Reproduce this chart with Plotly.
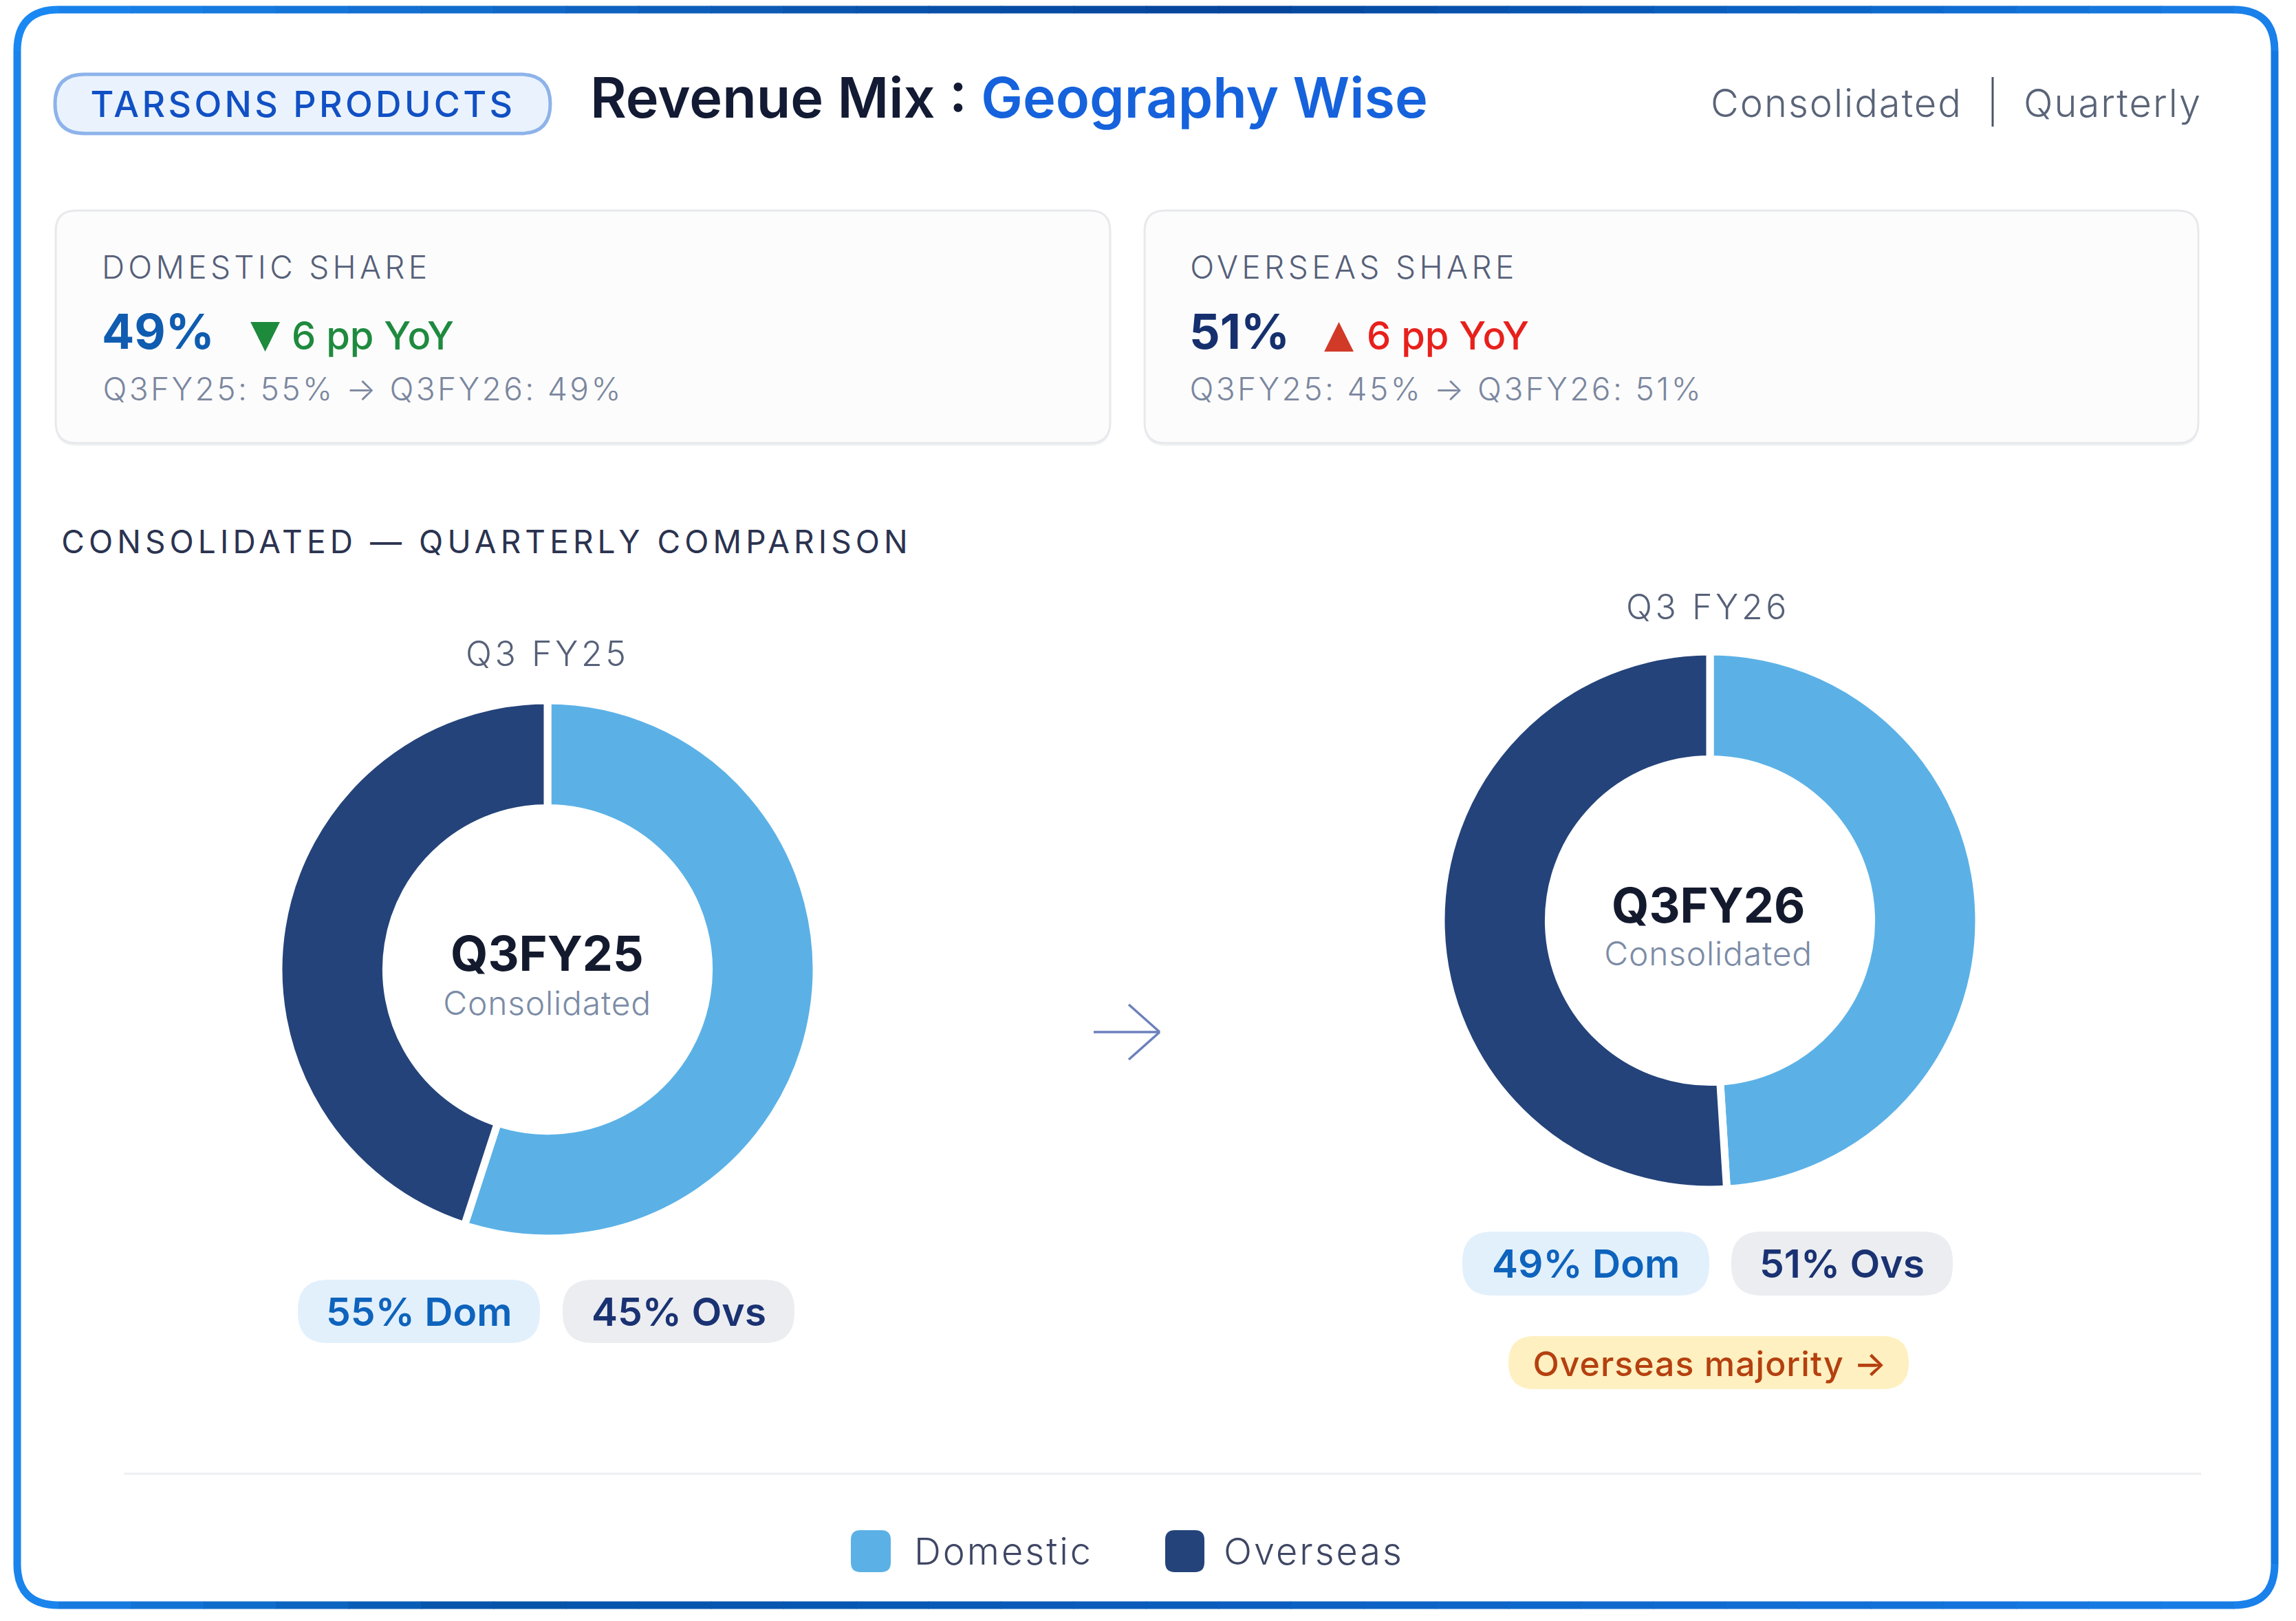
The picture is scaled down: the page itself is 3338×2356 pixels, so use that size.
import json
import plotly.graph_objects as go

W, H = 3338, 2356
FONT = "Inter"

# ---- data ----
segments = ["Domestic", "Overseas"]
q3fy25_values = [55, 45]
q3fy26_values = [49, 51]
segment_colors = ["#5BB1E6", "#24437A"]
quarter_labels = ["Q3 FY25", "Q3 FY26"]
center_labels = ["Q3FY25", "Q3FY26"]
delta_pp = 6

def fx(x): return x / W
def fy(y): return 1 - y / H

def rr_path(x0, y0, x1, y1, r):
    p = lambda x, y: f"{fx(x):.6f},{fy(y):.6f}"
    return (f"M{p(x0+r,y0)} L{p(x1-r,y0)} Q{p(x1,y0)} {p(x1,y0+r)} L{p(x1,y1-r)} "
            f"Q{p(x1,y1)} {p(x1-r,y1)} L{p(x0+r,y1)} Q{p(x0,y1)} {p(x0,y1-r)} "
            f"L{p(x0,y0+r)} Q{p(x0,y0)} {p(x0+r,y0)} Z")

shapes, annots, spacing = [], [], []

def rrect(x0, y0, x1, y1, r, fill, line=None, lw=0):
    shapes.append(dict(type="path", xref="paper", yref="paper", path=rr_path(x0, y0, x1, y1, r),
                       fillcolor=fill, line=dict(color=line or fill, width=lw), layer="below"))

def seg(x0, y0, x1, y1, color, lw):
    shapes.append(dict(type="line", xref="paper", yref="paper", x0=fx(x0), y0=fy(y0), x1=fx(x1), y1=fy(y1),
                       line=dict(color=color, width=lw), layer="below"))

def text(t, cx, cy, size, color, weight=400, sp=0, family=FONT):
    annots.append(dict(text=t, xref="paper", yref="paper", x=fx(cx), y=fy(cy), xanchor="center", yanchor="middle",
                       showarrow=False, font=dict(family=family, size=size, color=color, weight=weight)))
    spacing.append(sp)

def lerp_stops(stops, x):
    for (a, ca), (b, cb) in zip(stops, stops[1:]):
        if a <= x <= b:
            t = (x - a) / (b - a)
            c = [round(int(ca[i:i+2], 16) * (1 - t) + int(cb[i:i+2], 16) * t) for i in (1, 3, 5)]
            return "#%02x%02x%02x" % tuple(c)
    return stops[-1][1]

# ---- frame with horizontal gradient ----
FL, FR, FT, FB, FW, FRAD = 25, 3307, 14, 2333, 11, 60
top_stops = [(0, "#1a88f2"), (1200, "#0a55ae"), (1800, "#05449a"), (2600, "#0a62c4"), (3338, "#1a80ea")]
bot_stops = [(0, "#1a84ec"), (700, "#0553a8"), (1700, "#0a5cbc"), (2700, "#1270d6"), (3338, "#1a80ea")]
n = 30
for i in range(n):
    a = FL + FRAD + (FR - FL - 2 * FRAD) * i / n
    b = FL + FRAD + (FR - FL - 2 * FRAD) * (i + 1) / n
    seg(a, FT, b + 1, FT, lerp_stops(top_stops, (a + b) / 2), FW)
    seg(a, FB, b + 1, FB, lerp_stops(bot_stops, (a + b) / 2), FW)
seg(FL, FT + FRAD, FL, FB - FRAD, "#1a84ec", FW)
seg(FR, FT + FRAD, FR, FB - FRAD, "#1478e2", FW)
def corner(x0, y0, cx, cy, x1, y1, color):
    shapes.append(dict(type="path", xref="paper", yref="paper",
                       path=f"M{fx(x0):.6f},{fy(y0):.6f} Q{fx(cx):.6f},{fy(cy):.6f} {fx(x1):.6f},{fy(y1):.6f}",
                       line=dict(color=color, width=FW), layer="below"))
corner(FL, FT + FRAD, FL, FT, FL + FRAD, FT, "#1a88f2")
corner(FR - FRAD, FT, FR, FT, FR, FT + FRAD, "#1a80ea")
corner(FL, FB - FRAD, FL, FB, FL + FRAD, FB, "#1a84ec")
corner(FR - FRAD, FB, FR, FB, FR, FB - FRAD, "#1a80ea")

# ---- header ----
rrect(80, 108, 800, 194, 43, "#EAF3FD", "#8DB3EA", 5)
text("TARSONS PRODUCTS", 440, 152, 52, "#1150C4", 500, 4.3)
text('Revenue Mix : <span style="color:#1562DC">Geography Wise</span>', 1467, 142, 81, "#131A33", 600, 0)
text("Consolidated", 2670, 150, 56, "#5A6478", 300, 2)
seg(2897, 112, 2897, 184, "#4A5568", 3)
text("Quarterly", 3071, 150, 56, "#5A6478", 300, 2)

# ---- KPI cards ----
for x0, x1 in [(81, 1614), (1664, 3196)]:
    rrect(x0, 309, x1, 648, 30, "#F1F2F4")
    rrect(x0, 306, x1, 644, 30, "#FCFCFD", "#E8E9EC", 3)

text("DOMESTIC SHARE", 387, 388, 46, "#566078", 300, 5.3)
text(f"{q3fy26_values[0]}%", 230, 482, 70, "#0F5CB0", 700, 0)
text("▼", 385, 484, 56, "#1E8A3C", 400, 0, "DejaVu Sans")
text(f"{delta_pp} pp YoY", 542, 488, 56, "#1F8A3E", 500, 0)
text(f"Q3FY25: {q3fy25_values[0]}% → Q3FY26: {q3fy26_values[0]}%", 527, 565, 46, "#7B879E", 300, 3.4)

text("OVERSEAS SHARE", 1968, 388, 46, "#566078", 300, 5.4)
text(f"{q3fy26_values[1]}%", 1802, 482, 70, "#16306E", 700, 0)
text("▲", 1946, 484, 56, "#D23A28", 400, 0, "DejaVu Sans")
text(f"{delta_pp} pp YoY", 2105, 488, 56, "#E8201C", 500, 0)
text(f"Q3FY25: {q3fy25_values[1]}% → Q3FY26: {q3fy26_values[1]}%", 2103, 565, 46, "#7B879E", 300, 3.4)

text("CONSOLIDATED — QUARTERLY COMPARISON", 707, 787, 46, "#2B3350", 400, 6.1)

# ---- donuts ----
donut_r, gap = 391, 11
centers = [(796, 1409), (2486, 1338)]
text_cx = [795, 2483]
fig = go.Figure()
for (cx, cy), vals, name in zip(centers, [q3fy25_values, q3fy26_values], quarter_labels):
    fig.add_trace(go.Pie(labels=segments, values=vals, name=name, hole=0.60, sort=False, direction="clockwise",
                         rotation=0, textinfo="none", hoverinfo="label+percent", showlegend=False,
                         marker=dict(colors=segment_colors, line=dict(color="#FFFFFF", width=gap)),
                         domain=dict(x=[fx(cx - donut_r), fx(cx + donut_r)], y=[fy(cy + donut_r), fy(cy - donut_r)])))

for (_, cy), tx, ql, cl, lift in zip(centers, text_cx, quarter_labels, center_labels, [459, 456]):
    text(ql, tx, cy - lift, 50, "#566078", 300, 4.6)
    text(cl, tx, cy - 23, 70, "#141A2E", 700, 0)
    text("Consolidated", tx, cy + 48, 48, "#7C8CA6", 300, 0.8)

# ---- arrow ----
ax = "#6C80BC"
seg(1590, 1500, 1686, 1500, ax, 3.5)
seg(1641, 1460, 1686, 1500, ax, 3.5)
seg(1641, 1540, 1686, 1500, ax, 3.5)

# ---- value pills ----
pills = [
    (433, 785, 1860, 1952, "#E2F0FC", f"{q3fy25_values[0]}% Dom", "#0E63BC"),
    (818, 1155, 1860, 1952, "#EBEDF1", f"{q3fy25_values[1]}% Ovs", "#1A3272"),
    (2126, 2485, 1790, 1883, "#E2F0FC", f"{q3fy26_values[0]}% Dom", "#0E63BC"),
    (2517, 2839, 1790, 1883, "#EBEDF1", f"{q3fy26_values[1]}% Ovs", "#1A3272"),
]
for x0, x1, y0, y1, fill, t, col in pills:
    rrect(x0, y0, x1, y1, 44, fill)
    text(t, (x0 + x1) / 2, (y0 + y1) / 2, 57, col, 600, 0)

rrect(2193, 1942, 2775, 2019, 38, "#FEF0C0")
text("Overseas majority →", 2486, 1982, 50, "#B5400F", 500, 1)

# ---- divider & legend ----
seg(180, 2151 - 9, 3200, 2151 - 9, "#EEEFF1", 3)
legend_x = [(1237, 1295, 1459), (1694, 1751, 1910)]
for (x0, x1, tx), name, col in zip(legend_x, segments, segment_colors):
    rrect(x0, 2224, x1, 2285, 14, col)
    text(name, tx, 2254, 54, "#3E4663", 300, 3)

fig.update_layout(width=W, height=H, margin=dict(l=0, r=0, t=0, b=0, autoexpand=False),
                  paper_bgcolor="#FFFFFF", plot_bgcolor="#FFFFFF", showlegend=False,
                  shapes=shapes, annotations=annots, font=dict(family=FONT))

post = """
document.body.style.margin = '0';
var sp = %s;
function applySp(){
  var g = document.querySelectorAll('.annotation');
  g.forEach(function(a){
    var i = parseInt(a.getAttribute('data-index'));
    var t = a.querySelector('text');
    if (t && sp[i]) { t.style.letterSpacing = sp[i] + 'px'; }
  });
}
applySp(); setTimeout(applySp, 50); setTimeout(applySp, 500);
""" % json.dumps(spacing)

fig.write_html("out.html", config=dict(displayModeBar=False), post_script=post)
